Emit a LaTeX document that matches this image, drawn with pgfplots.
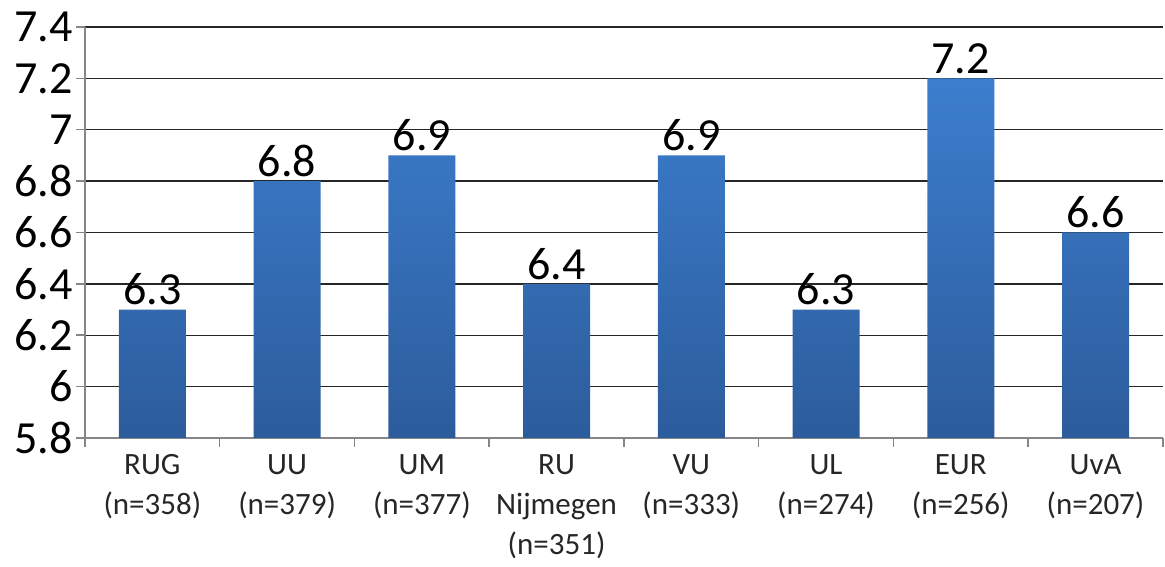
\documentclass[border=0pt]{standalone}
\usepackage{pgfplots}
\pgfplotsset{compat=1.18}
\usepackage{pgfplotstable}
\usepackage{fontspec}
\setmainfont{Carlito}
\definecolor{bartop}{RGB}{60,126,206}
\definecolor{barbot}{RGB}{44,92,156}
\definecolor{axgray}{RGB}{134,134,134}
\pgfplotstableread{
x v
1 6.3
2 6.8
3 6.9
4 6.4
5 6.9
6 6.3
7 7.2
8 6.6
}\scores
\begin{document}
\begin{tikzpicture}
\path[use as bounding box] (0,0) rectangle (1165pt,567pt);
\begin{axis}[
  at={(85pt,129pt)}, anchor=south west,
  scale only axis, width=1078pt, height=411pt,
  xmin=0.5, xmax=8.5, ymin=0, ymax=1.6,
  axis lines*=left,
  axis line style={axgray, line width=2pt},
  ytick={0,0.2,0.4,0.6,0.8,1.0,1.2,1.4,1.6},
  yticklabels={5.8,6,6.2,6.4,6.6,6.8,7,7.2,7.4},
  ymajorgrids,
  grid style={black!85, line width=1.3pt},
  tick align=outside,
  major tick length=9pt,
  tick style={axgray, line width=1.5pt},
  xtick={0.5,1.5,...,8.5},
  x tick label as interval,
  xticklabels={{RUG\\(n=358)},{UU\\(n=379)},{UM\\(n=377)},{RU\\Nijmegen\\(n=351)},{VU\\(n=333)},{UL\\(n=274)},{EUR\\(n=256)},{UvA\\(n=207)}},
  xticklabel style={align=center, font=\fontsize{31}{40}\selectfont, text=black!85, yshift=-4pt},
  yticklabel style={font=\fontsize{46}{50}\selectfont, text=black},
  /pgf/number format/assume math mode=true,
  clip=false,
]
\addplot[ybar, bar width=67pt, draw=none, top color=bartop, bottom color=barbot,
  point meta=explicit,
  nodes near coords,
  nodes near coords style={font=\fontsize{46}{50}\selectfont, text=black, anchor=south, inner sep=4pt,
    /pgf/number format/.cd, fixed, precision=1, assume math mode=true}]
  table[x=x, y expr=\thisrow{v}-5.8, meta=v] {\scores};
\end{axis}
\end{tikzpicture}
\end{document}
